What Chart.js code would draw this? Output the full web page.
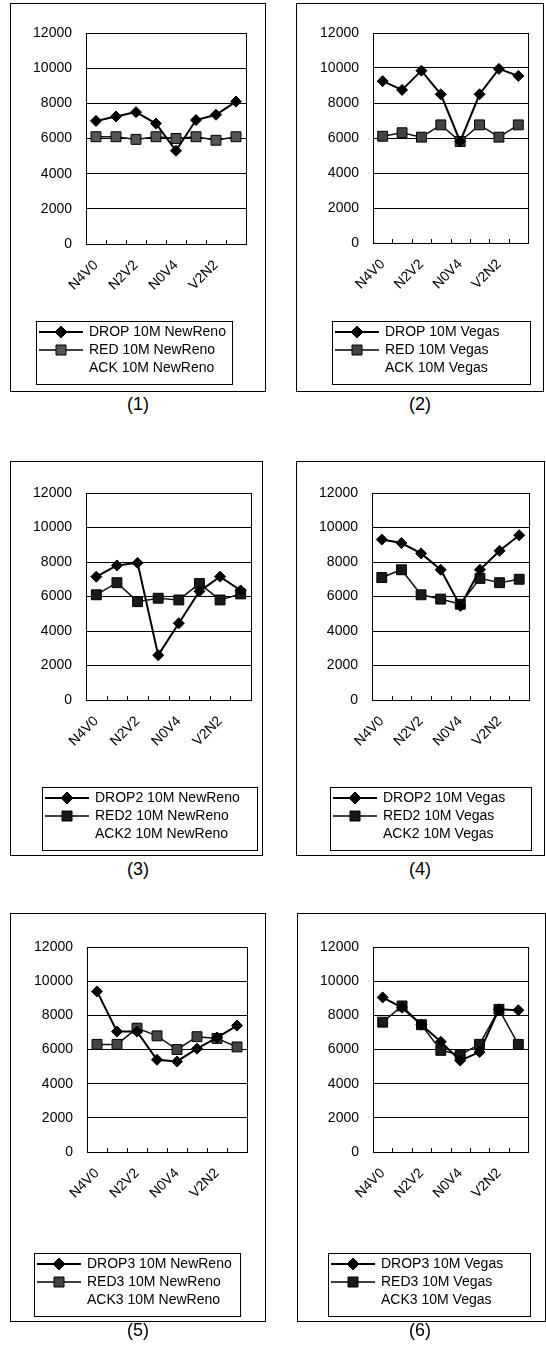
<!DOCTYPE html>
<html lang="en">
<head>
<meta charset="UTF-8" />
<title>DROP / RED / ACK 10M</title>
<style>
  body {
    margin: 0;
    background: #fff;
    width: 546px;
    height: 1348px;
    position: relative;
    overflow: hidden;
    font-family: "Liberation Sans", Arial, sans-serif;
  }
  .panel { position: absolute; border: 1px solid #000; background: #fff; }
  .panel canvas { display: block; }
  .caption {
    position: absolute;
    width: 80px;
    text-align: center;
    font-size: 18px;
    line-height: 18px;
    color: #000;
  }
</style>
</head>
<body>
<script src="https://cdn.jsdelivr.net/npm/chart.js"></script>
<script>
// categories (only every other one is labelled on the axis)
const categories = ['N4V0', 'N3V1', 'N2V2', 'N1V3', 'N0V4', 'V1N3', 'V2N2', 'V3N1'];

// values
const drop1 = [7000, 7250, 7500, 6850, 5300, 7050, 7350, 8100];
const red1  = [6100, 6100, 5950, 6100, 6000, 6100, 5900, 6100];
const drop2 = [9250, 8750, 9850, 8500, 5800, 8500, 9950, 9550];
const red2  = [6100, 6300, 6050, 6750, 5800, 6750, 6050, 6750];
const drop3 = [7150, 7800, 7950, 2600, 4450, 6300, 7150, 6350];
const red3  = [6100, 6800, 5700, 5900, 5800, 6750, 5800, 6150];
const drop4 = [9300, 9100, 8500, 7550, 5450, 7550, 8650, 9550];
const red4  = [7100, 7550, 6100, 5850, 5550, 7050, 6800, 7000];
const drop5 = [9400, 7050, 7050, 5400, 5300, 6050, 6700, 7400];
const red5  = [6300, 6300, 7250, 6800, 6000, 6750, 6650, 6150];
const drop6 = [9050, 8450, 7450, 6450, 5350, 5850, 8350, 8300];
const red6  = [7600, 8550, 7450, 5950, 5700, 6300, 8350, 6300];
const ack   = []; // ACK series only shows up in the legend

const names1 = ['DROP 10M NewReno', 'RED 10M NewReno', 'ACK 10M NewReno'];
const names2 = ['DROP 10M Vegas', 'RED 10M Vegas', 'ACK 10M Vegas'];
const names3 = ['DROP2 10M NewReno', 'RED2 10M NewReno', 'ACK2 10M NewReno'];
const names4 = ['DROP2 10M Vegas', 'RED2 10M Vegas', 'ACK2 10M Vegas'];
const names5 = ['DROP3 10M NewReno', 'RED3 10M NewReno', 'ACK3 10M NewReno'];
const names6 = ['DROP3 10M Vegas', 'RED3 10M Vegas', 'ACK3 10M Vegas'];

const captions = ['(1)', '(2)', '(3)', '(4)', '(5)', '(6)'];
const yMax = 12000;
const yStep = 2000;

const panels = [
  { drop: drop1, red: red1, names: names1 },
  { drop: drop2, red: red2, names: names2 },
  { drop: drop3, red: red3, names: names3 },
  { drop: drop4, red: red4, names: names4 },
  { drop: drop5, red: red5, names: names5 },
  { drop: drop6, red: red6, names: names6 }
];

// page geometry: box [l,t,r,b], plot area [l,t,r,b], legend frame [l,t,r], caption centre
const geom = [
  { box: [10, 3, 265, 391],     plot: [86, 33, 246, 250],    leg: [36, 327, 232],   cap: [138, 404],  redFill: '#555' },
  { box: [296, 3, 543, 391],    plot: [373, 33, 528, 249],   leg: [332, 327, 530],  cap: [420, 404],  redFill: '#444' },
  { box: [10, 461, 262, 855],   plot: [86, 493, 251, 706],   leg: [42, 793, 257],   cap: [138, 869],  redFill: '#1a1a1a' },
  { box: [296, 461, 544, 855],  plot: [372, 493, 529, 706],  leg: [330, 793, 531],  cap: [420, 869],  redFill: '#1a1a1a' },
  { box: [10, 913, 265, 1321],  plot: [87, 947, 247, 1158],  leg: [34, 1259, 240],  cap: [138, 1330], redFill: '#444' },
  { box: [297, 913, 545, 1321], plot: [373, 947, 528, 1158], leg: [328, 1259, 530], cap: [420, 1330], redFill: '#1a1a1a' }
];

Chart.defaults.font.family = '"Liberation Sans", Arial, sans-serif';
Chart.defaults.color = '#000';

// little line+marker pictures for the legend
function legendSymbol(kind, fill) {
  const c = document.createElement('canvas');
  c.width = 44; c.height = 14;
  const g = c.getContext('2d');
  if (kind === 'none') return c;
  g.strokeStyle = '#000';
  g.lineWidth = kind === 'diamond' ? 2 : 1.5;
  g.beginPath(); g.moveTo(0, 7); g.lineTo(44, 7); g.stroke();
  g.fillStyle = fill;
  g.lineWidth = 1;
  g.beginPath();
  if (kind === 'diamond') {
    g.moveTo(16, 7); g.lineTo(22, 1); g.lineTo(28, 7); g.lineTo(22, 13); g.closePath();
  } else {
    g.rect(17, 2, 10, 10);
  }
  g.fill(); g.stroke();
  return c;
}

// plot frame, inner tick marks, legend frame
const framePlugin = {
  id: 'frame',
  afterLayout(chart, args, opts) {
    // slide the legend block so its frame sits where the original one is
    const lg = chart.legend;
    if (!lg) return;
    const dx = opts.legLeft - lg.left;
    lg.left += dx;
    lg.right += dx;
  },
  beforeDatasetsDraw(chart) {
    const { ctx, chartArea: a } = chart;
    const x = chart.scales.x;
    ctx.save();
    ctx.strokeStyle = '#000';
    ctx.lineWidth = 1;
    ctx.beginPath();
    const rx = Math.round(a.right) + 0.5;
    ctx.moveTo(rx, a.top); ctx.lineTo(rx, a.bottom);
    for (let i = 0; i <= categories.length; i++) {
      const px = Math.round(x.getPixelForValue(i - 0.5)) + 0.5;
      ctx.moveTo(px, a.bottom); ctx.lineTo(px, a.bottom - 4);
    }
    ctx.stroke();
    ctx.restore();
  },
  afterDraw(chart, args, opts) {
    const lg = chart.legend;
    if (!lg) return;
    let right = opts.legRight;
    (lg.legendHitBoxes || []).forEach(h => { right = Math.max(right, h.left + h.width + 5); });
    const ctx = chart.ctx;
    ctx.save();
    ctx.strokeStyle = '#000';
    ctx.lineWidth = 1;
    ctx.strokeRect(Math.round(lg.left) + 0.5, Math.round(lg.top) + 0.5,
      Math.round(right - lg.left), Math.round(lg.bottom - lg.top) - 1);
    ctx.restore();
  }
};

panels.forEach((p, k) => {
  const g = geom[k];
  const [bl, bt, br, bb] = g.box;
  const ox = bl + 1, oy = bt + 1;
  const cw = br - bl - 1, ch = bb - bt - 1;
  const legH = 4 + 3 * 18;
  const padL = 2;
  const yW = g.plot[0] - ox - padL;
  const padR = br - g.plot[2];
  const padT = g.plot[1] - oy;
  const xH = g.leg[1] - g.plot[3];
  const padB = ch - (g.leg[1] - oy) - legH;

  const div = document.createElement('div');
  div.className = 'panel';
  div.style.left = bl + 'px';
  div.style.top = bt + 'px';
  div.style.width = cw + 'px';
  div.style.height = ch + 'px';
  const canvas = document.createElement('canvas');
  canvas.width = cw;
  canvas.height = ch;
  div.appendChild(canvas);
  document.body.appendChild(div);

  const cap = document.createElement('div');
  cap.className = 'caption';
  cap.textContent = captions[k];
  cap.style.left = (g.cap[0] - 40) + 'px';
  cap.style.top = (g.cap[1] - 9) + 'px';
  document.body.appendChild(cap);

  const symbols = [legendSymbol('diamond', '#000'), legendSymbol('square', g.redFill), legendSymbol('none')];

  new Chart(canvas, {
    type: 'line',
    data: {
      labels: categories,
      datasets: [
        {
          label: p.names[0],
          data: p.drop,
          borderColor: '#000',
          backgroundColor: '#000',
          borderWidth: 2,
          pointStyle: 'rectRot',
          pointRadius: 5.5,
          pointHoverRadius: 5.5,
          pointBackgroundColor: '#000',
          pointBorderColor: '#000',
          pointBorderWidth: 1,
          tension: 0
        },
        {
          label: p.names[1],
          data: p.red,
          borderColor: '#111',
          backgroundColor: g.redFill,
          borderWidth: 1.5,
          pointStyle: 'rect',
          pointRadius: 7,
          pointHoverRadius: 7,
          pointBackgroundColor: g.redFill,
          pointBorderColor: '#000',
          pointBorderWidth: 1,
          tension: 0
        },
        {
          label: p.names[2],
          data: ack,
          borderWidth: 0,
          pointRadius: 0
        }
      ]
    },
    options: {
      responsive: false,
      animation: false,
      layout: { padding: { left: padL, right: padR, top: padT, bottom: padB } },
      scales: {
        x: {
          offset: true,
          grid: { display: false },
          border: { display: true, color: '#000', width: 1 },
          ticks: {
            autoSkip: false,
            minRotation: 45,
            maxRotation: 45,
            padding: 5,
            color: '#000',
            font: { size: 14 },
            callback: (v, i) => (i % 2 === 0 ? categories[i] : '')
          },
          afterFit: s => { s.height = xH; }
        },
        y: {
          min: 0,
          max: yMax,
          ticks: {
            stepSize: yStep,
            padding: 14,
            color: '#000',
            font: { size: 14 },
            callback: v => String(v)
          },
          grid: { color: '#000', lineWidth: 1, drawTicks: false },
          border: { display: true, color: '#000' },
          afterFit: s => { s.width = yW; }
        }
      },
      plugins: {
        frame: { legLeft: g.leg[0] - ox, legRight: g.leg[2] - ox },
        legend: {
          position: 'bottom',
          align: 'start',
          labels: {
            usePointStyle: true,
            pointStyleWidth: 42,
            padding: 4,
            color: '#000',
            font: { size: 14 },
            generateLabels: chart => {
              const items = Chart.defaults.plugins.legend.labels.generateLabels(chart);
              return items.map((it, i) => Object.assign(it, { pointStyle: symbols[i], lineWidth: 0 }));
            }
          }
        },
        tooltip: { enabled: false }
      }
    },
    plugins: [framePlugin]
  });
});
</script>
</body>
</html>
